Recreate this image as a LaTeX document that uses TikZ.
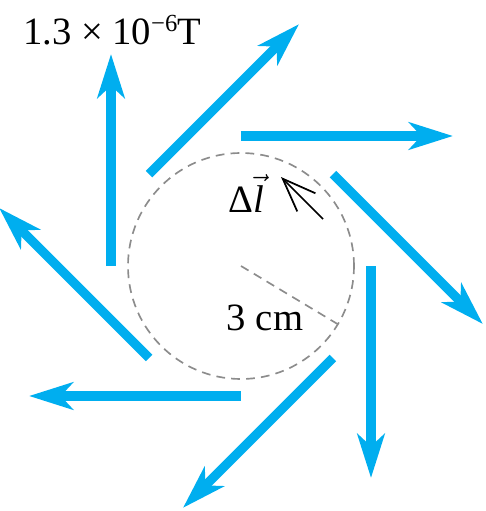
\documentclass[tikz,border=0pt]{standalone}
\usepackage{fontspec}
\setmainfont{Liberation Serif}
\usepackage{tikz}
\usetikzlibrary{arrows.meta}
\definecolor{fieldblue}{HTML}{00AEEF}

\begin{document}
\begin{tikzpicture}[
    x=0.02cm, y=0.02cm,
    >=Stealth,
    every node/.style={font=\fontsize{22}{26}\selectfont, inner sep=0pt},
    field/.style={draw=fieldblue, line width=5.2pt,
                  -{Stealth[length=25pt, width=15.5pt, inset=7pt]}},
    loop/.style={draw=gray!90, line width=0.95pt, dash pattern=on 5pt off 3.5pt},
    dl/.style={draw=black, line width=1pt, -{Straight Barb[length=19pt, width=14.6pt]}},
]
    \useasboundingbox (-241,-245) rectangle (244,266);

    % Amperian loop and its radius
    \coordinate (O) at (0,0);
    \draw[loop] (O) circle (113);
    \coordinate (R) at (-31:113);
    \draw[loop] (O) -- (R);

    % Field vectors, tangent to the loop
    \foreach \a [count=\i] in {180,135,90,45,0,-45,-90,-135} {
        \coordinate (s\i) at (\a:130);
        \coordinate (e\i) at ([shift={(\a-90:212)}] \a:130);
        \draw[field] (s\i) -- (e\i);
    }

    % Line element
    \coordinate (dla) at (82,47);
    \coordinate (dlb) at (40,89);
    \draw[dl] (dla) -- (dlb);

    % Labels
    \node[anchor=base] (B) at (-129,221)
        {1.3 × 10\raisebox{7.6pt}{\fontsize{14}{14}\selectfont −6}T};
    \node[anchor=base] (dlabel) at (5,54) {Δ\ensuremath{\vec{\textit{l}}}};
    \node[anchor=base] (rlabel) at (24,-64) {3 cm};
\end{tikzpicture}
\end{document}
